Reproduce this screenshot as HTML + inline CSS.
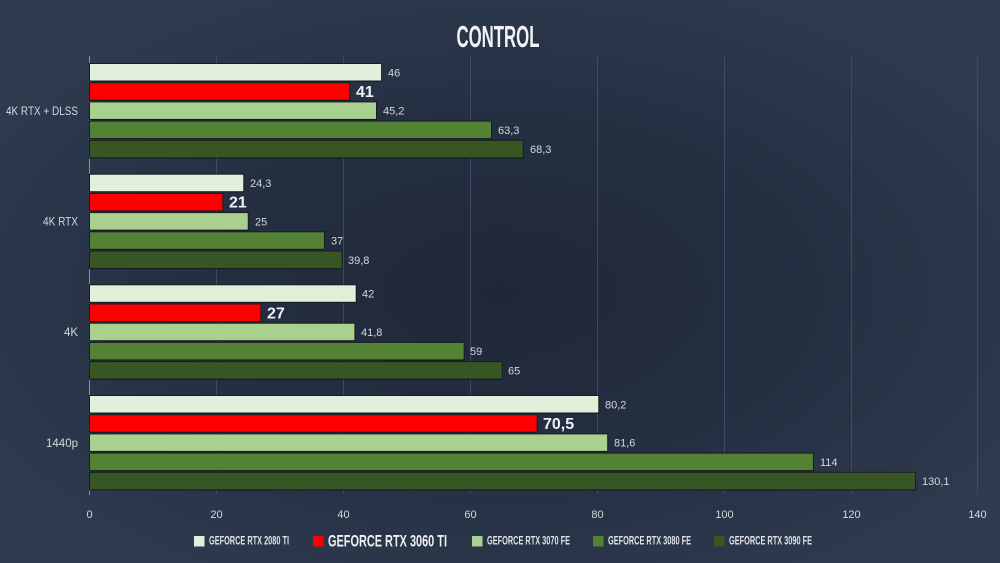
<!DOCTYPE html>
<html><head><meta charset="utf-8"><style>
html,body{margin:0;padding:0;background:#2b3649;}
svg{display:block;}
</style></head><body>
<svg width="1000" height="563" viewBox="0 0 1000 563" xmlns="http://www.w3.org/2000/svg">
<defs>
<radialGradient id="bg" cx="50%" cy="52%" r="62%">
<stop offset="0" stop-color="#1f2838"/>
<stop offset="0.5" stop-color="#242f42"/>
<stop offset="1" stop-color="#2f3b4f"/>
</radialGradient>
</defs>
<rect width="1000" height="563" fill="url(#bg)"/>
<text x="498" y="47" text-anchor="middle" font-family="Liberation Sans Narrow, Liberation Sans, sans-serif" font-weight="bold" font-size="31" fill="#f2f3f5" textLength="83" lengthAdjust="spacingAndGlyphs">CONTROL</text>
<g stroke="#46516a" stroke-width="1" opacity="0.8">
<line x1="216.5" y1="56" x2="216.5" y2="494"/>
<line x1="343.5" y1="56" x2="343.5" y2="494"/>
<line x1="470.5" y1="56" x2="470.5" y2="494"/>
<line x1="597.5" y1="56" x2="597.5" y2="494"/>
<line x1="724.5" y1="56" x2="724.5" y2="494"/>
<line x1="851.5" y1="56" x2="851.5" y2="494"/>
<line x1="977.5" y1="56" x2="977.5" y2="494"/>
</g>
<line x1="89.5" y1="56" x2="89.5" y2="495" stroke="#8893a3" stroke-width="1"/>
<g fill="#181c24">
<rect x="89" y="63" width="293.1" height="18.7"/><rect x="89" y="82.2" width="261.35" height="18.7"/><rect x="89" y="101.4" width="288" height="18.7"/><rect x="89" y="120.6" width="403" height="18.7"/><rect x="89" y="139.8" width="434.7" height="18.7"/>
<rect x="89" y="173.7" width="155.3" height="18.7"/><rect x="89" y="192.9" width="134.35" height="18.7"/><rect x="89" y="212.1" width="159.75" height="18.7"/><rect x="89" y="231.3" width="235.95" height="18.7"/><rect x="89" y="250.5" width="253.7" height="18.7"/>
<rect x="89" y="284.3" width="267.7" height="18.7"/><rect x="89" y="303.5" width="172.45" height="18.7"/><rect x="89" y="322.7" width="266.4" height="18.7"/><rect x="89" y="341.9" width="375.65" height="18.7"/><rect x="89" y="361.1" width="413.75" height="18.7"/>
<rect x="89" y="395" width="510.3" height="18.7"/><rect x="89" y="414.2" width="448.7" height="18.7"/><rect x="89" y="433.4" width="519.2" height="18.7"/><rect x="89" y="452.6" width="724.9" height="18.7"/><rect x="89" y="471.8" width="827.1" height="18.7"/>
</g>
<g>
<rect x="90" y="64" width="291.1" height="16.5" fill="#e2efda"/><rect x="90" y="83.2" width="259.35" height="16.5" fill="#ff0000"/><rect x="90" y="102.4" width="286" height="16.5" fill="#a9d08e"/><rect x="90" y="121.6" width="401" height="16.5" fill="#548235"/><rect x="90" y="140.8" width="432.7" height="16.5" fill="#375623"/>
<rect x="90" y="174.7" width="153.3" height="16.5" fill="#e2efda"/><rect x="90" y="193.9" width="132.35" height="16.5" fill="#ff0000"/><rect x="90" y="213.1" width="157.75" height="16.5" fill="#a9d08e"/><rect x="90" y="232.3" width="233.95" height="16.5" fill="#548235"/><rect x="90" y="251.5" width="251.7" height="16.5" fill="#375623"/>
<rect x="90" y="285.3" width="265.7" height="16.5" fill="#e2efda"/><rect x="90" y="304.5" width="170.45" height="16.5" fill="#ff0000"/><rect x="90" y="323.7" width="264.4" height="16.5" fill="#a9d08e"/><rect x="90" y="342.9" width="373.65" height="16.5" fill="#548235"/><rect x="90" y="362.1" width="411.75" height="16.5" fill="#375623"/>
<rect x="90" y="396" width="508.3" height="16.5" fill="#e2efda"/><rect x="90" y="415.2" width="446.7" height="16.5" fill="#ff0000"/><rect x="90" y="434.4" width="517.2" height="16.5" fill="#a9d08e"/><rect x="90" y="453.6" width="722.9" height="16.5" fill="#548235"/><rect x="90" y="472.8" width="825.1" height="16.5" fill="#375623"/>
</g>
<g font-family="Liberation Sans, sans-serif" font-size="11" fill="#d4d8de">
<text x="388" y="76.3">46</text><text x="383" y="114.7">45,2</text><text x="498" y="133.9">63,3</text><text x="530" y="153.1">68,3</text>
<text x="250" y="187">24,3</text><text x="255" y="225.4">25</text><text x="331" y="244.6">37</text><text x="348" y="263.8">39,8</text>
<text x="362" y="297.6">42</text><text x="361" y="336">41,8</text><text x="470" y="355.2">59</text><text x="508" y="374.4">65</text>
<text x="605" y="408.3">80,2</text><text x="614" y="446.7">81,6</text><text x="820" y="465.9">114</text><text x="922" y="485.1">130,1</text>
</g>
<g font-family="Liberation Sans, sans-serif" font-size="16" font-weight="bold" fill="#eef0f3">
<text x="356" y="97">41</text><text x="229" y="207.7">21</text><text x="267" y="318.3">27</text><text x="543" y="429">70,5</text>
</g>
<g font-family="Liberation Sans, sans-serif" font-size="11.5" fill="#d4d8de">
<text x="6" y="114.8" textLength="72" lengthAdjust="spacingAndGlyphs">4K RTX + DLSS</text>
<text x="43" y="225.5" textLength="35" lengthAdjust="spacingAndGlyphs">4K RTX</text>
<text x="64" y="336.1" textLength="14" lengthAdjust="spacingAndGlyphs">4K</text>
<text x="46" y="446.8" textLength="32" lengthAdjust="spacingAndGlyphs">1440p</text>
</g>
<g font-family="Liberation Sans, sans-serif" font-size="11" fill="#d4d8de" text-anchor="middle">
<text x="89.5" y="518">0</text><text x="216.5" y="518">20</text><text x="343.5" y="518">40</text><text x="470.5" y="518">60</text><text x="597.5" y="518">80</text><text x="724.5" y="518">100</text><text x="851.5" y="518">120</text><text x="977.5" y="518">140</text>
</g>
<rect x="194" y="536" width="10.5" height="10.5" fill="#e2efda"/>
<rect x="313" y="536" width="10.5" height="10.5" fill="#ff0000"/>
<rect x="472" y="536" width="10.5" height="10.5" fill="#a9d08e"/>
<rect x="593" y="536" width="10.5" height="10.5" fill="#548235"/>
<rect x="714" y="536" width="10.5" height="10.5" fill="#375623"/>
<g font-family="Liberation Sans Narrow, Liberation Sans, sans-serif" font-weight="bold" fill="#dfe3e8">
<text x="209" y="544.5" font-size="12" textLength="80" lengthAdjust="spacingAndGlyphs">GEFORCE RTX 2080 TI</text>
<text x="328" y="546.7" font-size="17" textLength="119" lengthAdjust="spacingAndGlyphs" fill="#eef0f3">GEFORCE RTX 3060 TI</text>
<text x="487" y="544.5" font-size="12" textLength="83" lengthAdjust="spacingAndGlyphs">GEFORCE RTX 3070 FE</text>
<text x="608" y="544.5" font-size="12" textLength="83" lengthAdjust="spacingAndGlyphs">GEFORCE RTX 3080 FE</text>
<text x="729" y="544.5" font-size="12" textLength="83" lengthAdjust="spacingAndGlyphs">GEFORCE RTX 3090 FE</text>
</g>
</svg>
</body></html>
